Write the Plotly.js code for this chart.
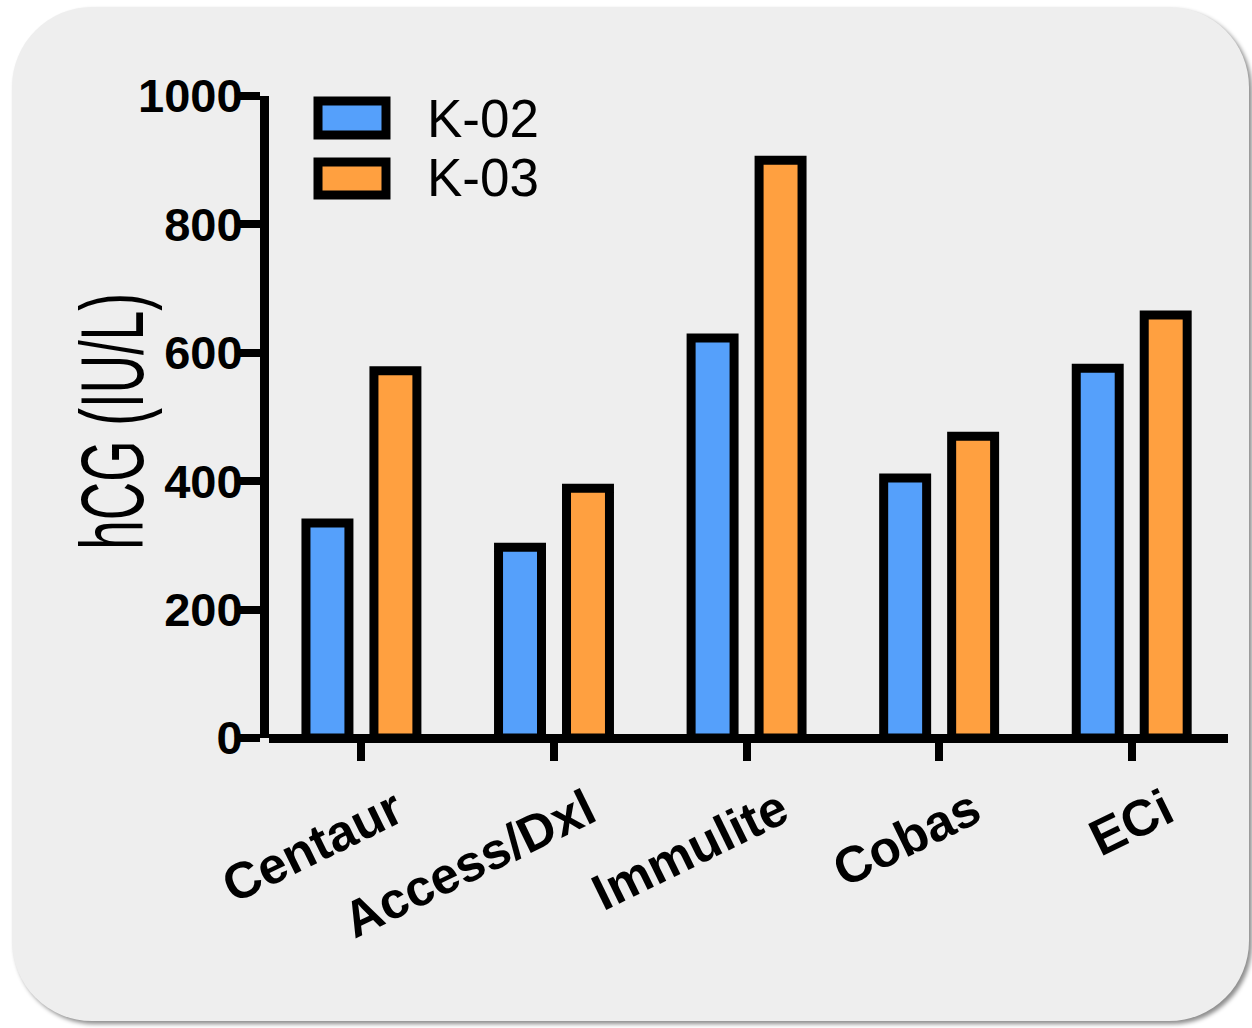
<!DOCTYPE html>
<html>
<head>
<meta charset="utf-8">
<script src="https://cdn.plot.ly/plotly-3.0.1.min.js"></script>
<style>
  html, body { margin: 0; padding: 0; background: #ffffff; width: 1252px; height: 1028px; overflow: hidden; }
  #card { position: absolute; left: 12px; top: 7px; width: 1237px; height: 1014px; background: #eeeeee;
          border-radius: 80px; box-shadow: 3px 3px 4px rgba(0,0,0,0.45); }
  #chart { position: absolute; left: 0; top: 0; width: 1252px; height: 1028px; }
</style>
</head>
<body>
<div id="card"></div>
<div id="chart"></div>
<script>
const categories = ["Centaur", "Access/Dxl", "Immulite", "Cobas", "ECi"];
const seriesNames = ["K-02", "K-03"];
const k02 = [335, 297, 623, 405, 576];
const k03 = [572, 389, 900, 470, 659];
const yTicks = [0, 200, 400, 600, 800, 1000];
const yTitle = "hCG (IU/L)";

const blue = "#55a0fb";
const orange = "#ffa040";
const lw = 9;

const traces = [
  { type: "bar", name: seriesNames[0], x: categories, y: k02,
    marker: { color: blue, line: { color: "#000", width: lw } }, hoverinfo: "none" },
  { type: "bar", name: seriesNames[1], x: categories, y: k03,
    marker: { color: orange, line: { color: "#000", width: lw } }, hoverinfo: "none" }
];

const yTickFont = { family: "Liberation Sans, Arial, sans-serif", size: 47, color: "#000", weight: "bold" };
const xTickFont = { family: "Liberation Sans, Arial, sans-serif", size: 51, color: "#000", weight: "bold" };

const layout = {
  width: 1252, height: 1028,
  paper_bgcolor: "rgba(0,0,0,0)", plot_bgcolor: "rgba(0,0,0,0)",
  margin: { l: 269, r: 24, t: 96, b: 290 },
  showlegend: false,
  barmode: "group", bargap: 0.294, bargroupgap: 0.368,
  xaxis: {
    type: "category", range: [-0.48, 4.5],
    showline: false, showgrid: false, zeroline: false,
    ticks: "outside", ticklen: 22, tickwidth: 8, tickcolor: "#000",
    tickangle: -26, tickfont: xTickFont, ticklabelshift: 34, fixedrange: true
  },
  yaxis: {
    range: [0, 1000], tickvals: yTicks, ticktext: yTicks.map(String),
    showline: true, linewidth: lw, linecolor: "#000",
    showgrid: false, zeroline: true, zerolinewidth: lw, zerolinecolor: "#000",
    ticks: "outside", ticklen: 21, tickwidth: 8, tickcolor: "#000",
    tickfont: yTickFont, ticklabelstandoff: -13, fixedrange: true
  },
  shapes: [
    { type: "rect", xref: "paper", yref: "paper", x0: 0.0511, x1: 0.1220, y0: 0.9393, y1: 0.9922,
      line: { color: "#000", width: lw }, fillcolor: blue, layer: "above" },
    { type: "rect", xref: "paper", yref: "paper", x0: 0.0511, x1: 0.1220, y0: 0.8458, y1: 0.8972,
      line: { color: "#000", width: lw }, fillcolor: orange, layer: "above" }
  ],
  annotations: [
    { xref: "paper", yref: "paper", x: 0.1627, y: 0.9657, xanchor: "left", yanchor: "middle",
      text: seriesNames[0], showarrow: false,
      font: { family: "Liberation Sans, Arial, sans-serif", size: 53, color: "#000" } },
    { xref: "paper", yref: "paper", x: 0.1627, y: 0.8723, xanchor: "left", yanchor: "middle",
      text: seriesNames[1], showarrow: false,
      font: { family: "Liberation Sans, Arial, sans-serif", size: 53, color: "#000" } },
    { xref: "paper", yref: "paper", x: (112 - 269) / 959, y: (738 - 422) / 642,
      xanchor: "center", yanchor: "middle", textangle: -90,
      text: yTitle, showarrow: false,
      font: { family: "Liberation Sans, Arial, sans-serif", size: 64, color: "#000" } }
  ]
};

Plotly.newPlot("chart", traces, layout, { displayModeBar: false, staticPlot: true }).then(function (gd) {
  // stretch the rotated axis title: shorter along its length, thicker across
  const groups = gd.querySelectorAll(".annotation");
  const g = groups[groups.length - 1];
  if (!g) return;
  const t = g.querySelector("text");
  if (!t) return;
  const bb = t.getBBox();
  const cx = bb.x + bb.width / 2, cy = bb.y + bb.height / 2;
  const prev = t.getAttribute("transform") || "";
  t.setAttribute("transform", prev + " translate(" + cx + "," + cy + ") scale(0.83,1.4) translate(" + (-cx) + "," + (-cy) + ")");
});
</script>
</body>
</html>
